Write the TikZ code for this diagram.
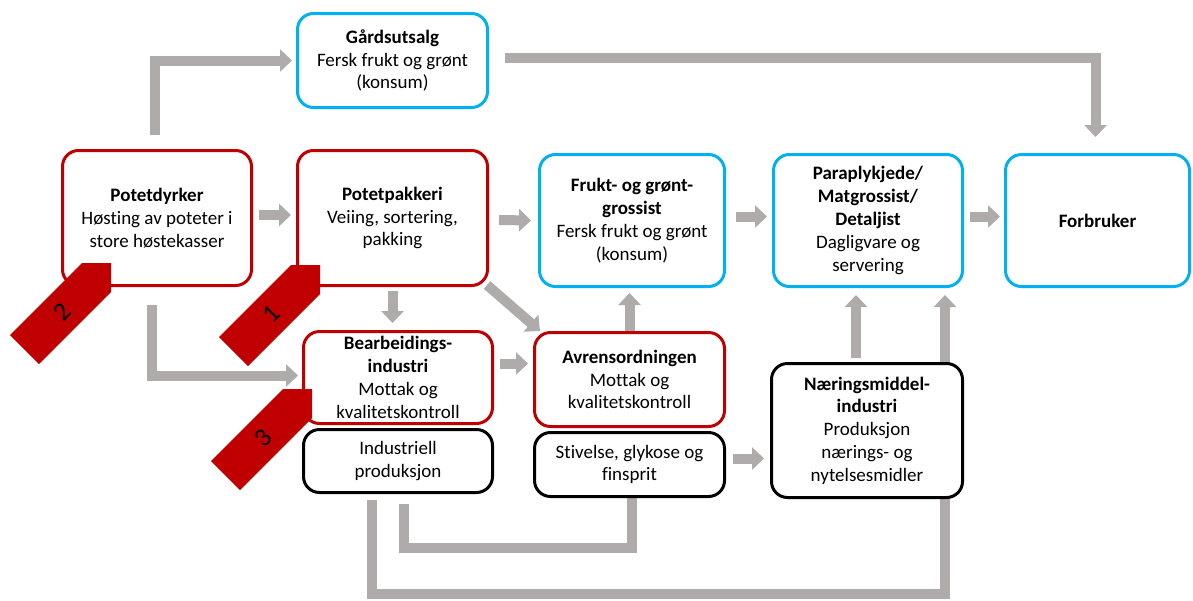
\documentclass[tikz,border=0pt]{standalone}
\usepackage{fontspec}
\setmainfont{Carlito}[Ligatures=NoCommon]
\usetikzlibrary{arrows.meta,calc}
\definecolor{cblue}{HTML}{00B0F0}
\definecolor{cred}{HTML}{C00000}
\definecolor{cgray}{HTML}{AFABAB}
\pgfdeclarelayer{bg}
\pgfsetlayers{bg,main}
\begin{document}
\begin{tikzpicture}[x=1pt,y=-1pt,
  box/.style={rectangle, rounded corners=16pt, line width=3pt, fill=white, inner sep=0pt, align=center, font=\fontsize{19}{22.8}\selectfont},
  redbox/.style={box, draw=cred},
  bluebox/.style={box, draw=cblue},
  blackbox/.style={box, draw=black},
  garrow/.style={draw=cgray, line width=10pt, line join=miter, -{Triangle[width=22pt,length=12pt]}},
  gline/.style={draw=cgray, line width=10pt, line join=miter},
  tagnum/.style={font=\fontsize{26}{26}\selectfont, rotate=45, inner sep=0pt, text=black}]
\useasboundingbox (0,0) rectangle (1193,600);

% boxes
\node[bluebox, minimum width=190pt, minimum height=94pt] (gard) at (392.5,60.5) {\textbf{Gårdsutsalg}\\Fersk frukt og grønt\\(konsum)};
\node[redbox, minimum width=189pt, minimum height=135pt] (dyrk) at (157,218) {\textbf{Potetdyrker}\\Høsting av poteter i\\store høstekasser};
\node[redbox, minimum width=190pt, minimum height=135pt] (pakk) at (392.5,218) {\textbf{Potetpakkeri}\\Veiing, sortering,\\pakking};
\node[bluebox, minimum width=185pt, minimum height=132pt] (frukt) at (632,220.5) {\textbf{Frukt- og grønt-}\\\textbf{grossist}\\Fersk frukt og grønt\\(konsum)};
\node[bluebox, minimum width=189pt, minimum height=132pt] (para) at (868,220.5) {\textbf{Paraplykjede/}\\\textbf{Matgrossist/}\\\textbf{Detaljist}\\Dagligvare og\\servering};
\node[bluebox, minimum width=184pt, minimum height=132pt] (forb) at (1097.5,220.5) {\textbf{Forbruker}};
\node[redbox, minimum width=189pt, minimum height=92pt] (bearb) at (398,377.5) {\textbf{Bearbeidings-}\\\textbf{industri}\\Mottak og\\kvalitetskontroll};
\node[blackbox, minimum width=189pt, minimum height=63pt] (indus) at (398,461) {Industriell\\produksjon};
\node[redbox, minimum width=190pt, minimum height=94pt] (avr) at (629.5,379.5) {\textbf{Avrensordningen}\\Mottak og\\kvalitetskontroll};
\node[blackbox, minimum width=190pt, minimum height=64pt] (stiv) at (629.5,464.5) {Stivelse, glykose og\\finsprit};
\node[blackbox, minimum width=191pt, minimum height=134pt] (naer) at (867,430.5) {\textbf{Næringsmiddel-}\\\textbf{industri}\\Produksjon\\nærings- og\\nytelsesmidler};

% connectors
\begin{pgfonlayer}{bg}
\draw[garrow] ($(dyrk.north)+(-2,-14)$) |- ($(gard.west)+(-4,0)$);
\draw[garrow] ($(gard.east)+(16,-3)$) -| ($(forb.north)+(-2,-16)$);
\draw[garrow] ($(dyrk.east)+(6,-3)$) -- ($(pakk.west)+(-5,-3)$);
\draw[garrow] ($(pakk.east)+(10,2)$) -- ($(frukt.west)+(-7,0)$);
\draw[garrow] ($(frukt.east)+(10,-4)$) -- ($(para.west)+(-5,-4)$);
\draw[garrow] ($(para.east)+(6,-4)$) -- ($(forb.west)+(-4,-4)$);
\draw[garrow] ($(pakk.south)+(0,4)$) -- ($(pakk.south |- bearb.north)+(0,-7)$);
\draw[garrow] ($(pakk.south east)+(-2,-2)$) -- ($(avr.north west)+(7,0)$);
\draw[garrow] ($(dyrk.south)+(-5,18)$) |- ($(bearb.west)+(-4,-2)$);
\draw[garrow] ($(bearb.east)+(6,-14)$) -- ($(avr.west)+(-5,-16)$);
\draw[garrow] (avr.north) -- ($(avr.north |- frukt.south)+(0,5)$);
\draw[garrow] ($(stiv.east)+(7,-6)$) -- ($(stiv.east -| naer.west)+(-6,-6)$);
\draw[garrow] ($(naer.north)+(-11,-4)$) -- ($(naer.north |- para.south)+(-11,7)$);
\draw[garrow] ($(indus.south)+(-26,6)$) -- ++(0,94) -| ($(para.south)+(77,7)$);
\draw[gline] ($(indus.south)+(6,10)$) -- ++(0,44) -| ($(stiv.south)+(2,0)$);
\end{pgfonlayer}

% numbered tags
\fill[cred] (111,263) -- ++(-29,0) -- ++(-72,72) -- ++(29,29) -- ++(72,-72) -- cycle;
\node[tagnum] (n2) at (62,312) {2};
\fill[cred] (320,265) -- ++(-29,0) -- ++(-72,72) -- ++(29,29) -- ++(72,-72) -- cycle;
\node[tagnum] (n1) at (271,314) {1};
\fill[cred] (312,389) -- ++(-29,0) -- ++(-72,72) -- ++(29,29) -- ++(72,-72) -- cycle;
\node[tagnum] (n3) at (263,438) {3};
\end{tikzpicture}
\end{document}
